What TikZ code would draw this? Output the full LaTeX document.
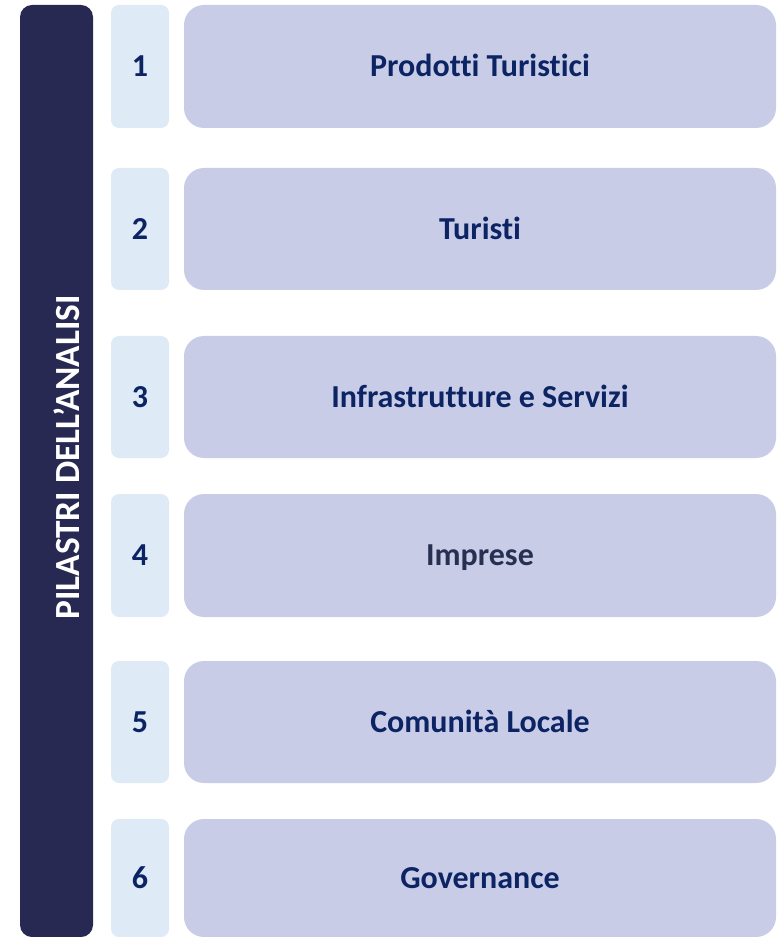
\documentclass[tikz,border=0pt]{standalone}
\usepackage{fontspec}
\setmainfont{Carlito}[Ligatures=NoCommon]
\def\px{0.75pt}
\definecolor{barnavy}{RGB}{39,41,82}
\definecolor{numblue}{RGB}{222,234,246}
\definecolor{itemlilac}{RGB}{201,204,231}
\definecolor{labelnavy}{RGB}{12,36,100}
\definecolor{labelslate}{RGB}{40,48,82}
\begin{document}
\begin{tikzpicture}[x=\px, y=-\px,
  every node/.style={font=\bfseries\fontsize{24}{28}\selectfont, text height=15.4pt, text depth=0pt, inner sep=0pt},
  pillarbar/.style={fill=barnavy, rounded corners=9pt, minimum width=73*\px, minimum height=932*\px},
  numbox/.style={fill=numblue, rounded corners=6pt, minimum width=58*\px, text=labelnavy},
  itembox/.style={fill=itemlilac, rounded corners=15pt, minimum width=592*\px}]
\useasboundingbox (0,0) rectangle (780,937);
% Left bar with rotated title
\node[pillarbar] (bar) at (56.5,471) {};
\node[rotate=90, text=white, font=\bfseries\fontsize{26.5}{30}\selectfont, text height=17pt] (bartitle) at (68,457.5) {PILASTRI DELL’ANALISI};
% Rows: number box and item box
\foreach \n/\yc/\h/\txt/\col in {1/66.5/123/Prodotti Turistici/labelnavy,
    2/229/122/Turisti/labelnavy,
    3/397/122/Infrastrutture e Servizi/labelnavy,
    4/555.5/123/Imprese/labelslate,
    5/722/122/Comunità Locale/labelnavy,
    6/878/118/Governance/labelnavy}{
  \node[numbox, minimum height=\h*\px] (num\n) at (140,\yc) {\n};
  \node[itembox, minimum height=\h*\px, text=\col] (item\n) at (480,\yc) {\txt};
}
\end{tikzpicture}
\end{document}
